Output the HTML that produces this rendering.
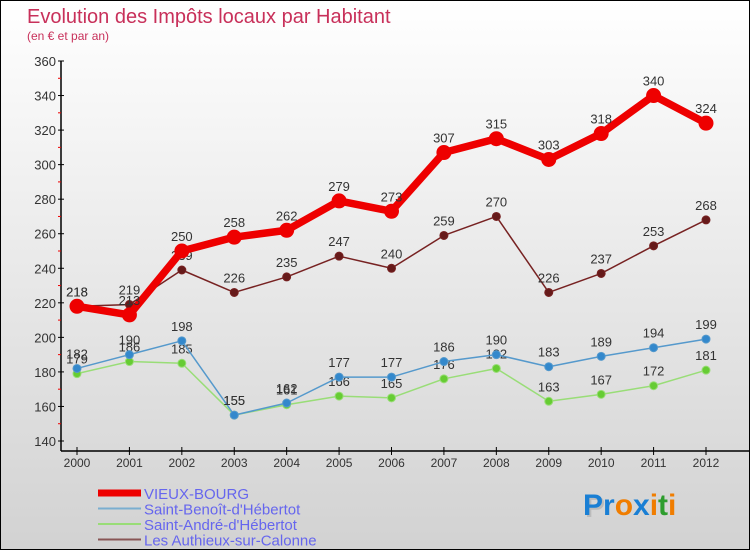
<!DOCTYPE html>
<html><head><meta charset="utf-8"><style>
body{margin:0}
#wrap{width:750px;height:550px;position:relative;box-sizing:border-box;border:1px solid #000;background:linear-gradient(#fff,#d2d2d2);font-family:"Liberation Sans","DejaVu Sans",sans-serif;overflow:hidden}
svg{position:absolute;left:0;top:0}
</style></head><body>
<div id="wrap">
<svg id="c" width="750" height="550">
<text x="26" y="22" font-size="20" fill="#c8305a" font-weight="300">Evolution des Impôts locaux par Habitant</text>
<text x="26" y="39" font-size="12" fill="#c8305a" font-weight="300">(en € et par an)</text>
<g font-size="30" font-weight="bold">
<text x="584" y="516" fill="#bbb">P</text>
<text x="582" y="514"><tspan fill="#1a7fd4">Pr</tspan><tspan fill="#f07d00">o</tspan><tspan fill="#1a7fd4">x</tspan><tspan fill="#f07d00">i</tspan><tspan fill="#2e9d2e">t</tspan><tspan fill="#f07d00">i</tspan></text>
</g>
</svg>
</div>
<script>
const years=[2000,2001,2002,2003,2004,2005,2006,2007,2008,2009,2010,2011,2012];
const yTicks=[140,160,180,200,220,240,260,280,300,320,340,360];
const vieux=[218,213,250,258,262,279,273,307,315,303,318,340,324];
const benoit=[182,190,198,155,162,177,177,186,190,183,189,194,199];
const andre=[179,186,185,155,161,166,165,176,182,163,167,172,181];
const authieux=[218,219,239,226,235,247,240,259,270,226,237,253,268];
const NS='http://www.w3.org/2000/svg';
const svg=document.getElementById('c');
function X(i){return 76+i*(705-76)/(years.length-1);}
function Y(v){return 60+(360-v)*(440-60)/220;}
function el(t,a,p){const e=document.createElementNS(NS,t);for(const k in a)e.setAttribute(k,a[k]);(p||svg).appendChild(e);return e;}
const ax=el('g',{});


el('line',{x1:60,y1:60,x2:60,y2:450,stroke:'#000','stroke-width':1.5},ax);
el('line',{x1:60,y1:450,x2:750,y2:450,stroke:'#000','stroke-width':1.5},ax);
yTicks.forEach(v=>{
 el('line',{x1:57,y1:Y(v),x2:63,y2:Y(v),stroke:'#000'},ax);
 if(v<360) el('line',{x1:57,y1:Y(v+10),x2:60,y2:Y(v+10),stroke:'#e00'},ax);
 const t=el('text',{x:55,y:Y(v)+5,'text-anchor':'end','font-size':13,fill:'#333'},ax);
 t.textContent=v;
 
 
});
years.forEach((y,i)=>{
 el('line',{x1:X(i),y1:446,x2:X(i),y2:454,stroke:'#000'},ax);
 const t=el('text',{x:X(i),y:466,'text-anchor':'middle','font-size':12,fill:'#333'},ax);
 t.textContent=y;
 
 
});
function series(data,color,w,r,fill,name){
 const g=el('g',{});
 
 
 el('polyline',{points:data.map((v,i)=>X(i)+','+Y(v)).join(' '),fill:'none',stroke:color,'stroke-width':w,'stroke-linejoin':'round'},g);
 data.forEach((v,i)=>{
  const c=el('circle',{cx:X(i),cy:Y(v),r:r,fill:fill,stroke:color,'stroke-width':1},g);
  
  
  const t=el('text',{x:X(i),y:Y(v)-10,'text-anchor':'middle','font-size':13,fill:'#333'},g);
  t.textContent=v;
  
  
 });
}
series(andre,'#99dd77',1.5,4,'#66cc33','series-saint-andre');
series(benoit,'#5599cc',1.5,4,'#3388cc','series-saint-benoit');
series(authieux,'#772222',1.5,4,'#661a1a','series-authieux');
series(vieux,'#ee0000',7.5,7,'#ee0000','series-vieux-bourg');
const legend=[['VIEUX-BOURG','#ee0000',7],['Saint-Benoît-d\'Hébertot','#7aaed0',2],['Saint-André-d\'Hébertot','#99dd77',2],['Les Authieux-sur-Calonne','#885555',2]];
legend.forEach((l,i)=>{
 const y=492+i*15.5;
 const g=el('g',{});
 
 
 el('line',{x1:97,y1:y,x2:140,y2:y,stroke:l[1],'stroke-width':l[2]},g);
 const t=el('text',{x:143,y:y+6,'font-size':15,fill:'#6666ee'},g);
 t.textContent=l[0];
 
 
});
</script>
</body></html>
